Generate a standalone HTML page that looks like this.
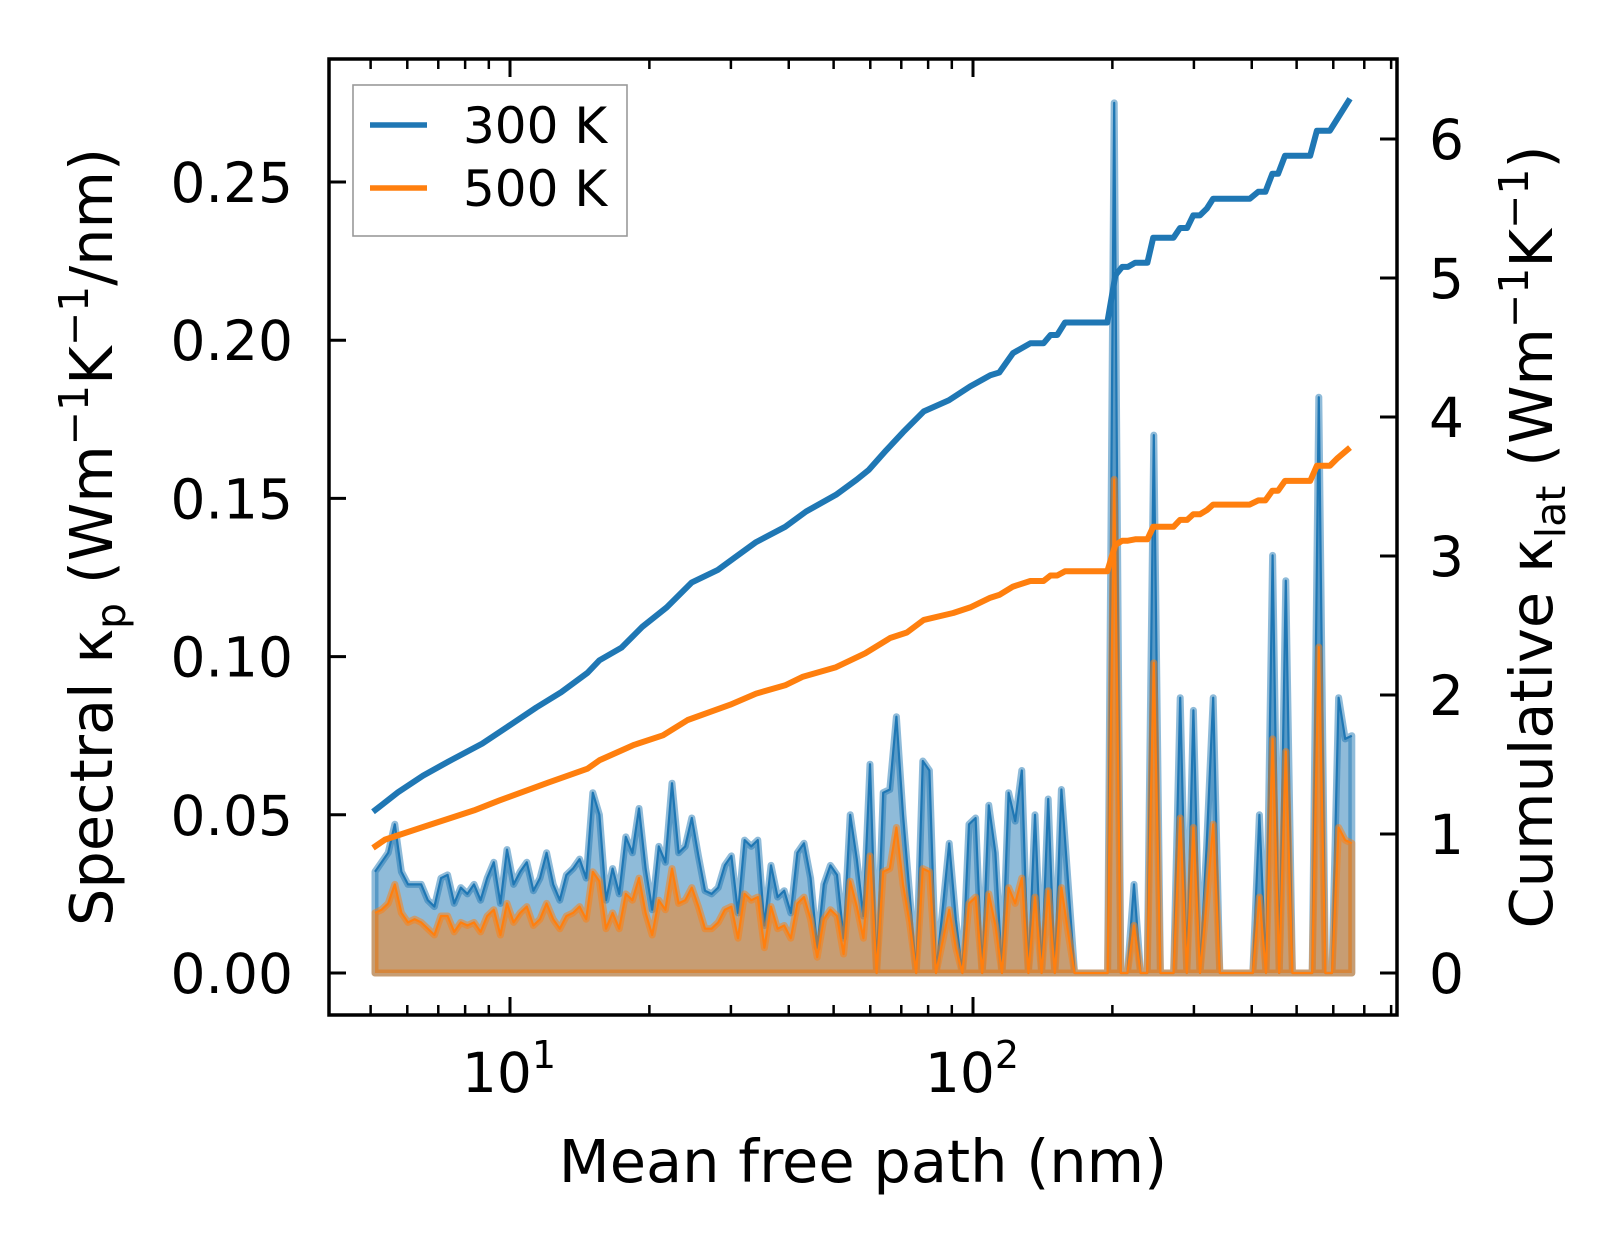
<!DOCTYPE html>
<html><head><meta charset="utf-8"><style>
html,body{margin:0;padding:0;background:#fff;}
svg{display:block;font-family:"DejaVu Sans","Liberation Sans",sans-serif;}
</style></head><body>
<svg id="chart" width="1623" height="1254" viewBox="0 0 1623 1254" xmlns="http://www.w3.org/2000/svg">
<rect width="1623" height="1254" fill="#fff"/>
<g id="plot"></g>
<g id="axes"></g>
<g>
  <rect x="353" y="85" width="274" height="151" fill="#fff" stroke="#999" stroke-width="1.6"/>
  <line x1="370" y1="125" x2="427" y2="125" stroke="#1f77b4" stroke-width="5.5"/>
  <text x="463" y="143" font-size="50">300 K</text>
  <line x1="370" y1="188" x2="427" y2="188" stroke="#ff7f0e" stroke-width="5.5"/>
  <text x="463" y="206" font-size="50">500 K</text>
</g>
<text x="863" y="1182" font-size="59" text-anchor="middle">Mean free path (nm)</text>
<text transform="translate(112,537) rotate(-90)" font-size="59" text-anchor="middle">Spectral κ<tspan font-size="41" dy="13">p</tspan><tspan dy="-13"> (Wm</tspan><tspan font-size="41" dy="-24">−1</tspan><tspan dy="24">K</tspan><tspan font-size="41" dy="-24">−1</tspan><tspan dy="24">/nm)</tspan></text>
<text transform="translate(1552,537) rotate(-90)" font-size="59" text-anchor="middle">Cumulative κ<tspan font-size="41" dy="13">lat</tspan><tspan dy="-13"> (Wm</tspan><tspan font-size="41" dy="-24">−1</tspan><tspan dy="24">K</tspan><tspan font-size="41" dy="-24">−1</tspan><tspan dy="24">)</tspan></text>
</svg>
<script>
const mfpStart = 5.11;
const mfpEnd = 658;
const spec300 = [.032,.035,.038,.047,.032,.028,.028,.028,.023,.021,
.030,.031,.022,.027,.025,.028,.023,.030,.035,.022,
.039,.028,.032,.035,.026,.030,.038,.028,.023,.031,
.033,.036,.030,.057,.050,.023,.033,.025,.043,.038,
.052,.033,.020,.040,.035,.060,.038,.040,.049,.037,
.026,.025,.027,.034,.037,.019,.042,.040,.042,.015,
.034,.024,.026,.019,.038,.041,.030,.008,.028,.034,
.031,.011,.050,.036,.018,.066,0,.057,
.058,.081,.050,.025,0,.067,.064,0,.020,.041,.017,0,.047,.049,0,.053,.038,0,.057,.048,.064,0,.050,0,.055,0,.058,.029,0,0,0,0,0,0,.275,0,0,.028,0,0,.170,0,0,0,.087,0,.083,0,.040,.087,0,0,0,0,0,0,.050,0,.132,0,.124,0,0,0,0,.182,0,0,.087,.074,.075];
const spec500 = [.019,.020,.022,.028,.019,.016,.017,.016,.014,.012,
.018,.018,.013,.016,.015,.016,.013,.018,.020,.012,
.022,.016,.019,.021,.015,.017,.022,.017,.014,.018,
.019,.021,.017,.032,.029,.014,.019,.014,.025,.023,
.030,.019,.012,.023,.020,.033,.022,.023,.027,.021,
.014,.014,.016,.020,.021,.011,.025,.023,.024,.008,
.021,.014,.015,.011,.022,.024,.017,.005,.017,.020,
.018,.006,.029,.021,.011,.037,0,.032,
.033,.046,.028,.016,0,.033,.032,0,.010,.020,.008,0,.022,.024,0,.025,.015,0,.027,.022,.030,0,.024,0,.026,0,.027,.013,0,0,0,0,0,0,.156,0,0,.015,0,0,.098,0,0,0,.049,0,.046,0,.022,.047,0,0,0,0,0,0,.024,0,.074,0,.070,0,0,0,0,.103,0,0,.046,.042,.041];
const cumMfp300 = [5.06,5.73,6.49,7.35,8.71,9.86,11.4,12.9,14.7,15.6,17.4,19.3,21.8,24.7,28.1,30.6,34.0,39.3,43.6,50.6,56.1,59.6,64.9,70.6,78.3,88.7,98.6,109,114,122,133,142,147,152,158,195,203,210,216,224,238,245,271,280,290,299,309,320,330,396,413,428,443,456,472,535,553,590,611,652];
const cum300 = [1.16,1.30,1.42,1.52,1.65,1.77,1.91,2.02,2.16,2.25,2.34,2.49,2.63,2.81,2.90,2.99,3.10,3.21,3.32,3.44,3.55,3.62,3.76,3.89,4.04,4.12,4.22,4.30,4.32,4.46,4.53,4.53,4.59,4.59,4.68,4.68,5.02,5.08,5.08,5.11,5.11,5.29,5.29,5.36,5.36,5.45,5.45,5.50,5.57,5.57,5.62,5.62,5.75,5.75,5.88,5.88,6.06,6.06,6.14,6.29];
const cumMfp500 = [5.06,5.37,6.49,8.36,9.47,12.1,14.7,15.6,18.5,21.4,24.2,29.9,34.0,39.3,42.8,50.6,58.5,66.2,72.0,78.3,90.6,98.6,109,114,122,133,142,147,152,158,195,203,210,216,224,238,245,271,280,290,299,309,320,330,396,413,428,443,456,472,535,553,590,611,652];
const cum500 = [0.90,0.96,1.05,1.17,1.24,1.37,1.47,1.53,1.64,1.71,1.82,1.93,2.01,2.07,2.13,2.20,2.30,2.41,2.45,2.54,2.59,2.63,2.70,2.72,2.78,2.82,2.82,2.86,2.86,2.89,2.89,3.08,3.11,3.11,3.12,3.12,3.21,3.21,3.26,3.26,3.30,3.30,3.33,3.37,3.37,3.40,3.40,3.47,3.47,3.54,3.54,3.65,3.65,3.70,3.78];
const leftTicks = [0,0.05,0.10,0.15,0.20,0.25];
const leftTickLabels = ["0.00","0.05","0.10","0.15","0.20","0.25"];
const rightTicks = [0,1,2,3,4,5,6];
const xMajor = [10,100];
const xMinor = [5,6,7,8,9,20,30,40,50,60,70,80,90,200,300,400,500,600,700,800];

const AX = {l:329,r:1397,t:59,b:1015};
function X(m){return 510 + 463*(Math.log10(m)-1);}
function YL(v){return 973 - v*3164;}
function YR(v){return 973 - v*139;}
const NS='http://www.w3.org/2000/svg';
function mk(tag,attrs,parent){const e=document.createElementNS(NS,tag);for(const k in attrs)e.setAttribute(k,attrs[k]);parent.appendChild(e);return e;}
const plot=document.getElementById('plot');
const axes=document.getElementById('axes');
const clip=mk('clipPath',{id:'clip'},plot);
mk('rect',{x:AX.l,y:AX.t,width:AX.r-AX.l,height:AX.b-AX.t},clip);
const pg=mk('g',{'clip-path':'url(#clip)'},plot);

function specX(i,n){const a=Math.log10(mfpStart),b=Math.log10(mfpEnd);return X(Math.pow(10,a+(b-a)*i/(n-1)));}
function drawSpec(arr,color,name){
  const n=arr.length;
  let pts=arr.map((v,i)=>specX(i,n).toFixed(1)+','+YL(v).toFixed(1));
  const poly=pts.concat([specX(n-1,n).toFixed(1)+','+YL(0),specX(0,n).toFixed(1)+','+YL(0)]).join(' ');
  const f=mk('polygon',{points:poly,fill:color,'fill-opacity':0.5,stroke:color,'stroke-opacity':0.5,'stroke-width':7,'stroke-linejoin':'round'},pg);
  
  
  const l=mk('polyline',{points:pts.join(' '),fill:'none',stroke:color,'stroke-width':2.2,'stroke-linejoin':'round'},pg);
  
  
}
drawSpec(spec300,'#1f77b4','spectral-300k');
drawSpec(spec500,'#ff7f0e','spectral-500k');
function drawCum(xs,ys,color,name){
  const pts=xs.map((m,i)=>X(m).toFixed(1)+','+YR(ys[i]).toFixed(1)).join(' ');
  const l=mk('polyline',{points:pts,fill:'none',stroke:color,'stroke-width':6,'stroke-linejoin':'round'},pg);
  
  
}
drawCum(cumMfp300,cum300,'#1f77b4','cumulative-300k');
drawCum(cumMfp500,cum500,'#ff7f0e','cumulative-500k');

leftTicks.forEach((v,i)=>{
  const y=YL(v);
  const t=mk('line',{x1:AX.l,y1:y,x2:AX.l+17,y2:y,stroke:'#000','stroke-width':3},axes);
  
  
  const tx=mk('text',{x:293,y:y+20,'font-size':55,'text-anchor':'end'},axes);
  tx.textContent=leftTickLabels[i];
  
  
});
rightTicks.forEach(v=>{
  const y=YR(v);
  const t=mk('line',{x1:AX.r-17,y1:y,x2:AX.r,y2:y,stroke:'#000','stroke-width':3},axes);
  
  
  const tx=mk('text',{x:1429,y:y+20,'font-size':55},axes);
  tx.textContent=String(v);
  
  
});
xMajor.forEach(m=>{
  const x=X(m);
  const b=mk('line',{x1:x,y1:AX.b,x2:x,y2:AX.b-18,stroke:'#000','stroke-width':3},axes);
  
  
  const tp=mk('line',{x1:x,y1:AX.t,x2:x,y2:AX.t+18,stroke:'#000','stroke-width':3},axes);
  
  
  const tx=mk('text',{x:x-1,y:1092,'font-size':55,'text-anchor':'middle'},axes);
  
  
  const s1=mk('tspan',{},tx); s1.textContent='10';
  const s2=mk('tspan',{'font-size':38,dy:-24}, tx); s2.textContent=String(Math.round(Math.log10(m)));
});
xMinor.forEach(m=>{
  const x=X(m);
  const b=mk('line',{x1:x,y1:AX.b,x2:x,y2:AX.b-10,stroke:'#000','stroke-width':2.5},axes);
  
  
  const tp=mk('line',{x1:x,y1:AX.t,x2:x,y2:AX.t+10,stroke:'#000','stroke-width':2.5},axes);
  
  
});
const frame=mk('rect',{x:AX.l,y:AX.t,width:AX.r-AX.l,height:AX.b-AX.t,fill:'none',stroke:'#000','stroke-width':3.5},axes);


</script>
</body></html>
